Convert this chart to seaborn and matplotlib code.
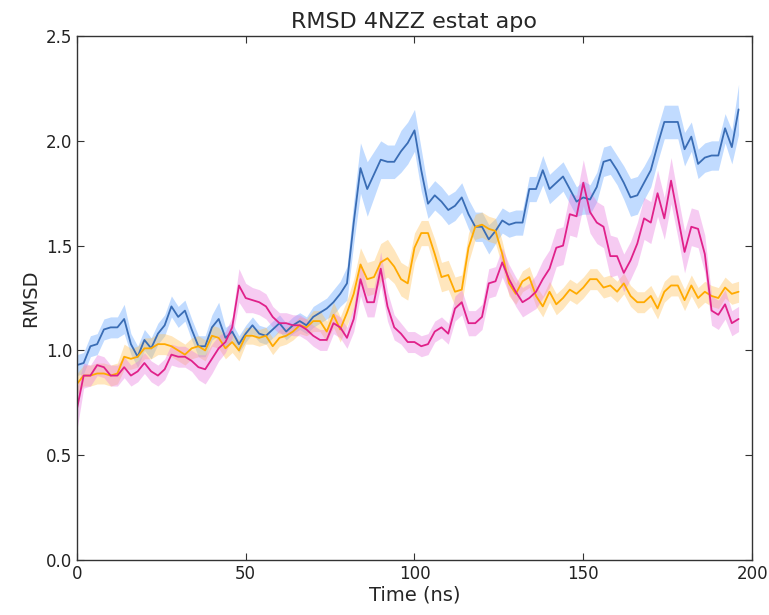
"""
RMSD 4NZZ estat apo - three replica averages with shaded spread
"""

import matplotlib
matplotlib.use("Agg")
import matplotlib.pyplot as plt
import seaborn as sns
import pandas as pd
import numpy as np

# time axis (ns), one point every 2 ns
time_ns = list(range(0, 198, 2))

rmsd_blue = [
    0.93, 0.94, 1.02, 1.03, 1.10, 1.11, 1.11, 1.15, 1.03, 0.97,
    1.05, 1.01, 1.08, 1.12, 1.21, 1.16, 1.19, 1.10, 1.02, 1.02,
    1.11, 1.15, 1.06, 1.09, 1.03, 1.08, 1.12, 1.08, 1.07, 1.10,
    1.13, 1.09, 1.12, 1.14, 1.12, 1.16, 1.18, 1.20, 1.23, 1.27,
    1.32, 1.61, 1.87, 1.77, 1.84, 1.91, 1.90, 1.90, 1.95, 1.99,
    2.05, 1.86, 1.70, 1.74, 1.71, 1.67, 1.69, 1.73, 1.65, 1.59,
    1.59, 1.53, 1.57, 1.62, 1.60, 1.61, 1.61, 1.77, 1.77, 1.86,
    1.77, 1.80, 1.83, 1.77, 1.71, 1.73, 1.72, 1.78, 1.90, 1.91,
    1.86, 1.80, 1.73, 1.74, 1.80, 1.86, 1.98, 2.09, 2.09, 2.09,
    1.96, 2.02, 1.89, 1.92, 1.93, 1.93, 2.06, 1.97, 2.15,
]
band_blue = [
    0.05, 0.05, 0.05, 0.05, 0.05, 0.05, 0.05, 0.07, 0.05, 0.05,
    0.05, 0.05, 0.05, 0.05, 0.05, 0.05, 0.05, 0.05, 0.05, 0.05,
    0.06, 0.08, 0.05, 0.04, 0.04, 0.04, 0.04, 0.04, 0.04, 0.04,
    0.04, 0.04, 0.04, 0.04, 0.04, 0.05, 0.05, 0.05, 0.06, 0.06,
    0.08, 0.10, 0.12, 0.13, 0.11, 0.09, 0.08, 0.08, 0.10, 0.10,
    0.10, 0.10, 0.07, 0.07, 0.07, 0.07, 0.07, 0.07, 0.07, 0.07,
    0.07, 0.07, 0.06, 0.06, 0.06, 0.06, 0.06, 0.06, 0.06, 0.07,
    0.07, 0.07, 0.07, 0.07, 0.07, 0.08, 0.07, 0.07, 0.07, 0.07,
    0.07, 0.08, 0.09, 0.09, 0.08, 0.08, 0.08, 0.08, 0.08, 0.08,
    0.08, 0.07, 0.07, 0.07, 0.07, 0.07, 0.07, 0.08, 0.12,
]

rmsd_orange = [
    0.84, 0.88, 0.88, 0.89, 0.89, 0.88, 0.89, 0.97, 0.96, 0.97,
    1.01, 1.01, 1.03, 1.03, 1.02, 1.00, 0.98, 1.01, 1.02, 1.00,
    1.07, 1.06, 1.01, 1.04, 1.00, 1.07, 1.07, 1.06, 1.07, 1.02,
    1.06, 1.07, 1.09, 1.12, 1.11, 1.14, 1.14, 1.09, 1.17, 1.10,
    1.18, 1.27, 1.41, 1.34, 1.35, 1.42, 1.44, 1.40, 1.34, 1.32,
    1.49, 1.56, 1.56, 1.46, 1.35, 1.36, 1.28, 1.29, 1.49, 1.59,
    1.60, 1.58, 1.57, 1.46, 1.32, 1.27, 1.33, 1.35, 1.26, 1.21,
    1.28, 1.22, 1.25, 1.29, 1.27, 1.30, 1.34, 1.34, 1.30, 1.31,
    1.28, 1.32, 1.26, 1.23, 1.23, 1.26, 1.20, 1.28, 1.31, 1.31,
    1.24, 1.31, 1.25, 1.28, 1.26, 1.25, 1.30, 1.27, 1.28,
]
band_orange = [
    0.05, 0.05, 0.05, 0.05, 0.05, 0.05, 0.05, 0.06, 0.05, 0.05,
    0.05, 0.05, 0.05, 0.05, 0.05, 0.05, 0.05, 0.05, 0.05, 0.05,
    0.05, 0.05, 0.05, 0.05, 0.05, 0.04, 0.04, 0.04, 0.04, 0.04,
    0.04, 0.04, 0.04, 0.04, 0.04, 0.05, 0.05, 0.05, 0.06, 0.06,
    0.06, 0.07, 0.08, 0.08, 0.08, 0.09, 0.09, 0.08, 0.08, 0.08,
    0.07, 0.06, 0.06, 0.07, 0.07, 0.07, 0.07, 0.07, 0.07, 0.06,
    0.06, 0.06, 0.06, 0.06, 0.06, 0.05, 0.05, 0.05, 0.05, 0.05,
    0.05, 0.05, 0.05, 0.05, 0.05, 0.05, 0.05, 0.05, 0.05, 0.05,
    0.05, 0.05, 0.05, 0.05, 0.05, 0.05, 0.05, 0.05, 0.05, 0.05,
    0.05, 0.05, 0.05, 0.05, 0.05, 0.05, 0.05, 0.05, 0.05,
]

rmsd_magenta = [
    0.72, 0.88, 0.88, 0.93, 0.92, 0.88, 0.88, 0.92, 0.88, 0.90,
    0.94, 0.90, 0.88, 0.91, 0.98, 0.97, 0.97, 0.95, 0.92, 0.91,
    0.96, 1.01, 1.04, 1.11, 1.31, 1.25, 1.24, 1.23, 1.21, 1.16,
    1.13, 1.13, 1.12, 1.12, 1.10, 1.07, 1.05, 1.05, 1.13, 1.11,
    1.06, 1.15, 1.34, 1.23, 1.23, 1.39, 1.21, 1.11, 1.08, 1.04,
    1.04, 1.02, 1.03, 1.09, 1.11, 1.08, 1.20, 1.23, 1.13, 1.13,
    1.16, 1.32, 1.33, 1.42, 1.34, 1.28, 1.23, 1.25, 1.28, 1.34,
    1.39, 1.49, 1.50, 1.65, 1.64, 1.80, 1.66, 1.61, 1.59, 1.45,
    1.45, 1.37, 1.43, 1.51, 1.63, 1.61, 1.75, 1.63, 1.81, 1.64,
    1.47, 1.59, 1.58, 1.46, 1.19, 1.17, 1.22, 1.13, 1.15,
]
band_magenta = [
    0.10, 0.06, 0.05, 0.05, 0.05, 0.05, 0.05, 0.05, 0.05, 0.05,
    0.05, 0.05, 0.05, 0.05, 0.05, 0.05, 0.05, 0.05, 0.06, 0.07,
    0.07, 0.06, 0.05, 0.05, 0.08, 0.07, 0.06, 0.06, 0.06, 0.05,
    0.05, 0.05, 0.05, 0.05, 0.05, 0.05, 0.05, 0.05, 0.05, 0.05,
    0.05, 0.06, 0.08, 0.07, 0.07, 0.08, 0.07, 0.06, 0.05, 0.05,
    0.05, 0.05, 0.05, 0.05, 0.05, 0.05, 0.06, 0.06, 0.06, 0.06,
    0.06, 0.07, 0.07, 0.07, 0.07, 0.07, 0.07, 0.07, 0.08, 0.09,
    0.09, 0.09, 0.09, 0.10, 0.10, 0.11, 0.10, 0.10, 0.10, 0.10,
    0.09, 0.09, 0.09, 0.10, 0.10, 0.10, 0.11, 0.10, 0.11, 0.10,
    0.10, 0.09, 0.09, 0.09, 0.07, 0.07, 0.07, 0.06, 0.06,
]

SERIES = [
    ("blue", rmsd_blue, band_blue, "#3a6db5", "#64a6ff"),
    ("orange", rmsd_orange, band_orange, "#ffaa00", "#ffc25a"),
    ("magenta", rmsd_magenta, band_magenta, "#e0218a", "#e97fe0"),
]

sns.set_style("ticks")
plt.rcParams["font.family"] = ["DejaVu Sans"]

fig = plt.figure(figsize=(7.69, 6.15), dpi=100)
ax = fig.add_axes([0.100, 0.0894, 0.878, 0.852])

for name, vals, band, line_col, fill_col in SERIES:
    df = pd.DataFrame({"time": time_ns, "rmsd": vals})
    lo = np.array(vals) - np.array(band)
    hi = np.array(vals) + np.array(band)
    ax.fill_between(time_ns, lo, hi, color=fill_col, alpha=0.4, linewidth=0)
    sns.lineplot(data=df, x="time", y="rmsd", color=line_col, linewidth=1.3, ax=ax)

ax.set_xlim(0, 200)
ax.set_ylim(0, 2.5)
ax.set_xticks([0, 50, 100, 150, 200])
ax.set_yticks([0.0, 0.5, 1.0, 1.5, 2.0, 2.5])
ax.set_yticklabels(["0.0", "0.5", "1.0", "1.5", "2.0", "2.5"])
ax.set_title("RMSD 4NZZ estat apo", fontsize=16)
ax.set_xlabel("Time (ns)", fontsize=14, labelpad=2)
ax.set_ylabel("RMSD", fontsize=14)

for side in ["top", "right", "left", "bottom"]:
    ax.spines[side].set_visible(True)
    ax.spines[side].set_color("#333333")
    ax.spines[side].set_linewidth(1.0)
ax.tick_params(direction="in", length=5, width=0.8, colors="#333333",
               top=True, right=True, labelsize=12, labelcolor="#222222")

fig.savefig("out.png", dpi=100)
